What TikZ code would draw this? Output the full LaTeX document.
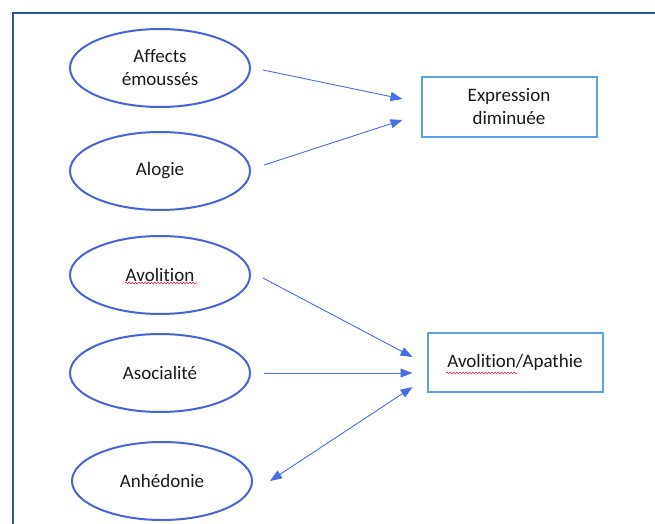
\documentclass[tikz,border=0pt]{standalone}
\usepackage{fontspec}
\setmainfont{Carlito}[Ligatures=NoCommon]
\usetikzlibrary{arrows.meta,shapes.geometric,decorations.pathmorphing}

\definecolor{framecol}{RGB}{43,84,160}
\definecolor{ovalcol}{RGB}{72,100,214}
\definecolor{boxcol}{RGB}{92,160,232}
\definecolor{arrcol}{RGB}{70,110,228}
\definecolor{squigcol}{RGB}{222,40,90}

\tikzset{
  oval/.style={draw=ovalcol, line width=2, ellipse, minimum width=180, minimum height=78, inner sep=0, align=center, text=black!90, font=\fontsize{19}{23}\selectfont},
  result/.style={draw=boxcol, line width=2, rectangle, minimum width=175, minimum height=59, inner sep=0, align=center, text=black!90, font=\fontsize{19}{23}\selectfont},
  arr/.style={draw=arrcol, line width=0.9, -{Triangle[length=12,width=9]}},
  squig/.style={draw=squigcol, line width=0.6, decorate, decoration={snake, amplitude=0.9, segment length=3.2}}
}

\begin{document}
\begin{tikzpicture}[x=1pt,y=1pt,yscale=-1,xscale=1]
\useasboundingbox (0,0) rectangle (655,524);

%Frame (top and left)
\draw [framecol, line width=2.2] (655,13) -- (13,13) -- (13,524);

%Shape: Ellipse
\node [oval] (aff) at (160,68) {Affects\\émoussés};
\node [oval] (alo) at (160,171) {Alogie};
\node [oval] (avo) at (160,275) {Avolition};
\node [oval] (aso) at (160,373) {Asocialité};
\node [oval] (anh) at (162,481) {Anhédonie};

%Shape: Rectangle
\node [result] (expr) at (509,107) {Expression\\diminuée};
\node [result] (apa) at (515,362) {Avolition/Apathie};

%Straight Lines
\draw [arr] ([xshift=12,yshift=2]aff.east) -- ([xshift=-18,yshift=-8]expr.west);
\draw [arr] ([xshift=13,yshift=-6]alo.east) -- ([xshift=-18,yshift=13]expr.west);
\draw [arr] ([xshift=12,yshift=3]avo.east) -- ([xshift=-14,yshift=-5]apa.west);
\draw [arr] ([xshift=13]aso.east) -- ([xshift=-14,yshift=11]apa.west);
\draw [arr, {Triangle[length=12,width=9]}-{Triangle[length=12,width=9]}] ([xshift=17,yshift=0]anh.east) -- ([xshift=-14,yshift=25]apa.west);

%Spelling marks
\draw [squig] ([xshift=-35,yshift=8]avo.center) -- ([xshift=37,yshift=8]avo.center);
\draw [squig] ([xshift=-69,yshift=11]apa.center) -- ([xshift=2,yshift=11]apa.center);
\end{tikzpicture}
\end{document}
